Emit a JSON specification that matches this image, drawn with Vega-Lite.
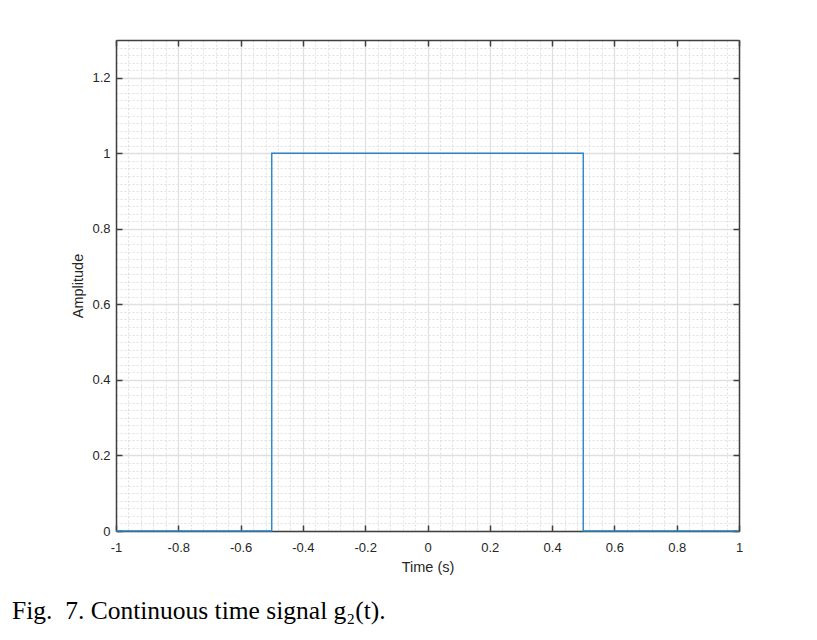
{
  "$schema": "https://vega.github.io/schema/vega-lite/v6.json",
  "width": 623,
  "height": 491,
  "autosize": {"type": "none"},
  "padding": {"left": 116, "top": 40, "right": 78, "bottom": 109},
  "background": "white",
  "config": {
    "view": {"stroke": null},
    "axis": {"labelFont": "Liberation Sans", "titleFont": "Liberation Sans", "labelColor": "#262626", "titleColor": "#262626", "labelFontSize": 13, "titleFontSize": 14.5, "titleFontWeight": "normal", "domainColor": "#404040", "tickColor": "#404040"}
  },
  "title": {
    "text": "Fig.\u00a0 7. Continuous time signal g\u2082(t).",
    "orient": "bottom",
    "anchor": "start",
    "frame": "group",
    "dx": -104,
    "offset": 25,
    "font": "Liberation Serif",
    "fontSize": 25.5,
    "fontWeight": "normal",
    "color": "#000000"
  },
  "data": {"values": [
    {"t": -1, "a": 0},
    {"t": -0.5, "a": 0},
    {"t": -0.5, "a": 1},
    {"t": 0.5, "a": 1},
    {"t": 0.5, "a": 0},
    {"t": 1, "a": 0}
  ]},
  "layer": [
    {
      "mark": {"type": "point", "opacity": 0},
      "encoding": {
        "x": {"field": "t", "type": "quantitative", "scale": {"domain": [-1, 1], "nice": false, "zero": false},
          "axis": {"orient": "bottom", "values": [-0.96,-0.92,-0.88,-0.84,-0.76,-0.72,-0.68,-0.64,-0.56,-0.52,-0.48,-0.44,-0.36,-0.32,-0.28,-0.24,-0.16,-0.12,-0.08,-0.04,0.04,0.08,0.12,0.16,0.24,0.28,0.32,0.36,0.44,0.48,0.52,0.56,0.64,0.68,0.72,0.76,0.84,0.88,0.92,0.96],
            "labels": false, "ticks": false, "domain": false, "title": null, "grid": true, "gridColor": "#e0e0e0", "gridDash": [2, 2], "gridWidth": 1}},
        "y": {"field": "a", "type": "quantitative", "scale": {"domain": [0, 1.3], "nice": false},
          "axis": {"orient": "left", "values": [0.02,0.04,0.06,0.08,0.1,0.12,0.14,0.16,0.18,0.22,0.24,0.26,0.28,0.3,0.32,0.34,0.36,0.38,0.42,0.44,0.46,0.48,0.5,0.52,0.54,0.56,0.58,0.62,0.64,0.66,0.68,0.7,0.72,0.74,0.76,0.78,0.82,0.84,0.86,0.88,0.9,0.92,0.94,0.96,0.98,1.02,1.04,1.06,1.08,1.1,1.12,1.14,1.16,1.18,1.22,1.24,1.26,1.28],
            "labels": false, "ticks": false, "domain": false, "title": null, "grid": true, "gridColor": "#e0e0e0", "gridDash": [2, 2], "gridWidth": 1}}
      }
    },
    {
      "mark": {"type": "point", "opacity": 0},
      "encoding": {
        "x": {"field": "t", "type": "quantitative",
          "axis": {"orient": "top", "values": [-1,-0.8,-0.6,-0.4,-0.2,0,0.2,0.4,0.6,0.8,1],
            "labels": false, "ticks": true, "tickSize": -6, "tickWidth": 1.5, "domain": true, "domainWidth": 1.5, "title": null, "grid": false}},
        "y": {"field": "a", "type": "quantitative",
          "axis": {"orient": "right", "values": [0,0.2,0.4,0.6,0.8,1,1.2],
            "labels": false, "ticks": true, "tickSize": -6, "tickWidth": 1.5, "domain": true, "domainWidth": 1.5, "title": null, "grid": false}}
      }
    },
    {
      "mark": {"type": "line", "color": "#2a84c6", "strokeWidth": 1.4, "interpolate": "linear"},
      "encoding": {
        "x": {"field": "t", "type": "quantitative",
          "axis": {"orient": "bottom", "values": [-1,-0.8,-0.6,-0.4,-0.2,0,0.2,0.4,0.6,0.8,1], "labelExpr": "toString(datum.value)", "labelFlush": false,
            "grid": true, "gridColor": "#e0e0e0", "gridWidth": 1.3, "ticks": true, "tickSize": -6, "tickWidth": 1.5, "domain": true, "domainWidth": 1.5,
            "labelPadding": 16, "title": "Time (s)", "titlePadding": 6}},
        "y": {"field": "a", "type": "quantitative",
          "axis": {"orient": "left", "values": [0,0.2,0.4,0.6,0.8,1,1.2], "labelExpr": "toString(datum.value)", "labelFlush": false,
            "grid": true, "gridColor": "#e0e0e0", "gridWidth": 1.3, "ticks": true, "tickSize": -6, "tickWidth": 1.5, "domain": true, "domainWidth": 1.5,
            "labelPadding": 12, "title": "Amplitude", "titlePadding": 6}}
      }
    }
  ],
  "resolve": {"axis": {"x": "independent", "y": "independent"}}
}
